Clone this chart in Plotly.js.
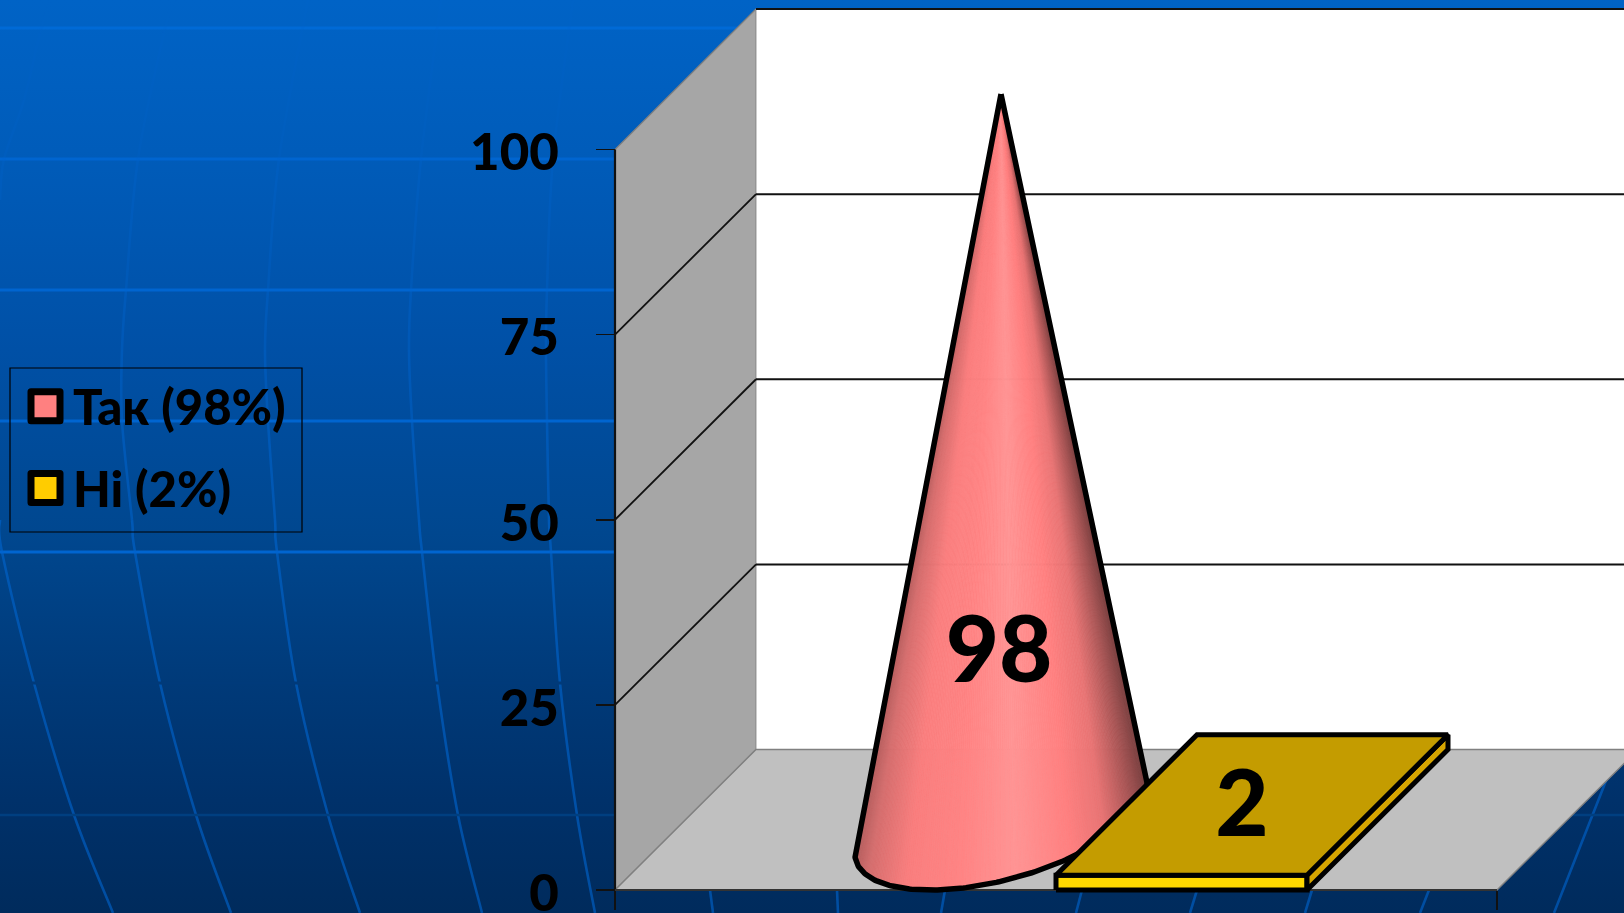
<!DOCTYPE html>
<html>
<head>
<meta charset="utf-8">
<script src="https://cdn.plot.ly/plotly-3.0.1.min.js"></script>
<style>
html,body{margin:0;padding:0;width:1624px;height:913px;overflow:hidden;
background:linear-gradient(180deg,#0063c6 0px,#005cba 150px,#0050a6 350px,#00478f 533px,#003a79 683px,#00316a 800px,#002b5c 913px);}
#chart{width:1624px;height:913px;}
</style>
</head>
<body>
<div id="chart"></div>
<script>
// ---- data ----
const seriesNames = ['Так (98%)', 'Ні (2%)'];
const seriesValues = [98, 2];
const seriesColors = ['#ff8080', '#ffcc00'];
const yTicks = [0, 25, 50, 75, 100];
const categorySlots = [0, 1];

// ---- decor: backdrop pattern, in canvas pixels ----
const decorRows = [28, 159, 290, 421, 552];
const decorMeridians = [
  [[51,0],[40,33],[24,100],[4,159],[0,200]],
  [[0,520],[2,552],[34,683],[74,815],[113,913]],
  [[174,0],[164,33],[138,159],[126,290],[122,350],[122,421],[132,520],[135,552],[160,683],[196,815],[231,913]],
  [[308,0],[279,159],[268,290],[265,350],[268,421],[275,520],[277,552],[296,683],[328,815],[360,913]],
  [[441,0],[421,159],[411,290],[409,350],[412,421],[419,520],[422,552],[437,683],[458,815],[482,913]],
  [[573,0],[553,159],[547,290],[546,350],[547,421],[549,520],[551,552],[560,683],[577,815],[595,913]],
  [[710,890],[713,913]],[[837,890],[838,913]],[[945,890],[941,913]],[[1082,890],[1076,913]],
  [[1197,890],[1190,913]],[[1312,890],[1305,913]],[[1429,890],[1420,913]],[[1624,737],[1613,763],[1554,913]]
];

// ---- canvas / projection set-up ----
const W = 1624, H = 913;
const AX_L = 615, SLOT_PX = 882, Y0_PX = 890, PX_PER_UNIT = 7.405;
const xRange = [-AX_L / SLOT_PX, (W - AX_L) / SLOT_PX];
const yRange = [-(H - Y0_PX) / PX_PER_UNIT, Y0_PX / PX_PER_UNIT];
const DX = 141 / SLOT_PX, DY = 140.5 / PX_PER_UNIT;
const BAR_W = 251 / SLOT_PX;
const project = (x, v, z) => [x + z * DX, v + z * DY];

function poly(pts, fill, lineColor, width) {
  const xs = pts.map(p => p[0]), ys = pts.map(p => p[1]);
  xs.push(xs[0]); ys.push(ys[0]);
  return {x: xs, y: ys, type: 'scatter', mode: 'lines', fill: 'toself', fillcolor: fill,
    line: {color: lineColor, width: width}, showlegend: false, hoverinfo: 'skip'};
}
function linePath(pts, color, width) {
  return {x: pts.map(p => p[0]), y: pts.map(p => p[1]), type: 'scatter', mode: 'lines',
    line: {color: color, width: width}, showlegend: false, hoverinfo: 'skip'};
}

const yMax = yTicks[yTicks.length - 1];
const xEnd = categorySlots[1];
const traces = [];

// walls + floor
traces.push(poly([project(0,0,0), project(0,0,1), project(0,yMax,1), project(0,yMax,0)], '#a6a6a6', '#808080', 1.2));
traces.push(poly([project(0,0,1), project(xEnd,0,1), project(xEnd,yMax,1), project(0,yMax,1)], '#ffffff', '#9a9a9a', 1));
traces.push(poly([project(0,0,0), project(xEnd,0,0), project(xEnd,0,1), project(0,0,1)], '#c0c0c0', '#808080', 1.4));
// value gridlines on wall
yTicks.filter(t => t > 0).forEach(t => {
  if (t < yMax) traces.push(linePath([project(0,t,0), project(0,t,1)], '#111111', 1.8));
  traces.push(linePath([project(0,t,1), project(xEnd,t,1)], '#111111', 2));
});
// front axis lines
traces.push(linePath([[0,0],[0,yMax]], '#111111', 2.2));
traces.push(linePath([[0,0],[xEnd,0]], '#333333', 1.8));

// cone: series 0
const shadeStops = [0, 0.06, 0.18, 0.35, 0.52, 0.7, 0.82, 0.92, 1];
const shadeRGB = [[176,92,92],[214,110,110],[250,126,126],[255,132,132],[255,148,148],[255,128,128],[232,116,116],[170,86,86],[118,62,62]];
function shade(s) {
  let i = 0;
  while (i < shadeStops.length - 2 && s > shadeStops[i + 1]) i++;
  const f = (s - shadeStops[i]) / (shadeStops[i + 1] - shadeStops[i]);
  const c = shadeRGB[i].map((a, k) => Math.round(a + (shadeRGB[i + 1][k] - a) * f));
  return 'rgb(' + c.join(',') + ')';
}
const barCenter = k => 0.5 + (k - 0.5) * BAR_W;
const coneX = barCenter(0), coneV = seriesValues[0];
const apex = project(coneX, coneV, 0.5);
const N = 360, ring = [];
for (let i = 0; i < N; i++) {
  const t = 2 * Math.PI * i / N;
  ring.push(project(coneX + 1.02 * BAR_W / 2 * Math.cos(t), 0, 0.5 + 0.5 * Math.sin(t)));
}
const ratio = p => (p[0] - apex[0]) / (apex[1] - p[1]);
let iL = 0, iR = 0;
ring.forEach((p, i) => { if (ratio(p) < ratio(ring[iL])) iL = i; if (ratio(p) > ratio(ring[iR])) iR = i; });
const arc = [];
for (let i = iL; ; i = (i + 1) % N) { arc.push(ring[i]); if (i === iR) break; }
const rMin = ratio(ring[iL]), rMax = ratio(ring[iR]);
const WEDGE = 1;
for (let i = 0; i < arc.length - 1; i += WEDGE) {
  const seg = arc.slice(i, Math.min(i + WEDGE + 1, arc.length));
  const c = shade((ratio(seg[0]) - rMin) / (rMax - rMin));
  traces.push(poly([apex].concat(seg), c, c, 0.8));
}
traces.push(poly([apex].concat(arc), 'rgba(0,0,0,0)', '#000000', 5.5));

// slab: series 1
const sx0 = barCenter(1) - BAR_W / 2, sx1 = barCenter(1) + BAR_W / 2, sv = seriesValues[1];
traces.push(poly([project(sx0,0,0), project(sx1,0,0), project(sx1,sv,0), project(sx0,sv,0)], '#ffd800', '#000000', 5));
traces.push(poly([project(sx1,0,0), project(sx1,0,1), project(sx1,sv,1), project(sx1,sv,0)], '#d6a500', '#000000', 5));
traces.push(poly([project(sx0,sv,0), project(sx1,sv,0), project(sx1,sv,1), project(sx0,sv,1)], '#c49c00', '#000000', 5));

// data labels
traces.push({
  type: 'scatter', mode: 'text', showlegend: false, hoverinfo: 'skip',
  x: [apex[0] - 2 / SLOT_PX, project(barCenter(1), 0, 0.5)[0] - 10 / SLOT_PX],
  y: [coneV * 0.33 - 1.1, sv + DY / 2 - 1.1],
  text: seriesValues.map(String), textposition: 'middle center',
  textfont: {family: 'Lato, "Noto Sans", sans-serif', size: 92, weight: 900, color: '#000000'}
});

// legend entries
seriesNames.forEach((name, k) => traces.push({
  type: 'scatter', mode: 'markers', name: name, legendgroup: 'g' + k,
  x: [null], y: [null], hoverinfo: 'skip',
  marker: {symbol: 'square', size: 16, color: seriesColors[k], line: {color: '#000000', width: 2}}
}));

// backdrop shapes
const px = (x, y) => (x / W) + ',' + (1 - y / H);
const shapes = [];
const rowLine = (y, color, w) => ({type: 'line', xref: 'paper', yref: 'paper', layer: 'below',
  x0: 0, x1: 1, y0: 1 - y / H, y1: 1 - y / H, line: {color: color, width: w}});
decorRows.forEach(y => shapes.push(rowLine(y, y < 100 ? '#006ad6' : '#0065d0', 3)));
decorMeridians.forEach(m => {
  for (let i = 0; i < m.length - 1; i++) {
    const p0 = m[Math.max(i - 1, 0)], p1 = m[i], p2 = m[i + 1], p3 = m[Math.min(i + 2, m.length - 1)];
    const c1 = [p1[0] + (p2[0] - p0[0]) / 6, p1[1] + (p2[1] - p0[1]) / 6];
    const c2 = [p2[0] - (p3[0] - p1[0]) / 6, p2[1] - (p3[1] - p1[1]) / 6];
    const yMid = (p1[1] + p2[1]) / 2;
    const op = Math.min(0.62, 0.1 + 0.5 * yMid / 520);
    shapes.push({type: 'path', xref: 'paper', yref: 'paper', layer: 'below',
      path: 'M' + px(p1[0], p1[1]) + ' C' + px(c1[0], c1[1]) + ' ' + px(c2[0], c2[1]) + ' ' + px(p2[0], p2[1]),
      line: {color: 'rgb(0,100,205)', width: 2.6}, opacity: op});
  }
});
shapes.push(rowLine(683, '#003a7a', 3));
shapes.push(rowLine(815, '#003f80', 2.5));
// legend frame
shapes.push({type: 'rect', xref: 'paper', yref: 'paper', layer: 'below',
  x0: 10 / W, x1: 302 / W, y0: 1 - 532 / H, y1: 1 - 368 / H,
  line: {color: '#000000', width: 1.2}, fillcolor: 'rgba(0,0,0,0)'});

const layout = {
  width: W, height: H,
  margin: {l: 0, r: 0, t: 0, b: 0, pad: 0},
  paper_bgcolor: 'rgba(0,0,0,0)', plot_bgcolor: 'rgba(0,0,0,0)',
  hovermode: false,
  xaxis: {range: xRange, anchor: 'free', position: (H - Y0_PX) / H, domain: [0, 1],
    tickmode: 'array', tickvals: categorySlots, showticklabels: false, ticks: 'outside', ticklen: 19,
    tickwidth: 1.5, tickcolor: '#111111', showline: false, showgrid: false, zeroline: false, fixedrange: true},
  yaxis: {range: yRange, anchor: 'free', position: AX_L / W, domain: [0, 1],
    tickmode: 'array', tickvals: yTicks, ticktext: yTicks.map(String), ticks: 'outside', ticklen: 19,
    tickwidth: 1.5, tickcolor: '#111111', showline: false, showgrid: false, zeroline: false, fixedrange: true,
    ticklabelstandoff: 27, ticklabelshift: 3, ticklabeloverflow: 'allow',
    tickfont: {family: 'Lato, "Noto Sans", sans-serif', size: 51, weight: 900, color: '#000000'}},
  showlegend: true,
  legend: {x: 18 / W, y: 1 - 368 / H, xanchor: 'left', yanchor: 'top', xref: 'paper', yref: 'paper',
    bgcolor: 'rgba(0,0,0,0)', borderwidth: 0, itemwidth: 45, tracegroupgap: 15, traceorder: 'grouped',
    font: {family: 'Lato, "Noto Sans", sans-serif', size: 49, weight: 900, color: '#000000'}},
  shapes: shapes
};

Plotly.newPlot('chart', traces, layout, {displayModeBar: false, staticPlot: true}).then(gd => {
  gd.querySelectorAll('.legend .legendpoints path').forEach(p => {
    p.setAttribute('d', 'M-14.5,-14.5H14.5V14.5H-14.5Z');
    p.style.strokeWidth = '7px';
    p.style.strokeLinejoin = 'round';
    p.style.stroke = '#000000';
  });
});
</script>
</body>
</html>
